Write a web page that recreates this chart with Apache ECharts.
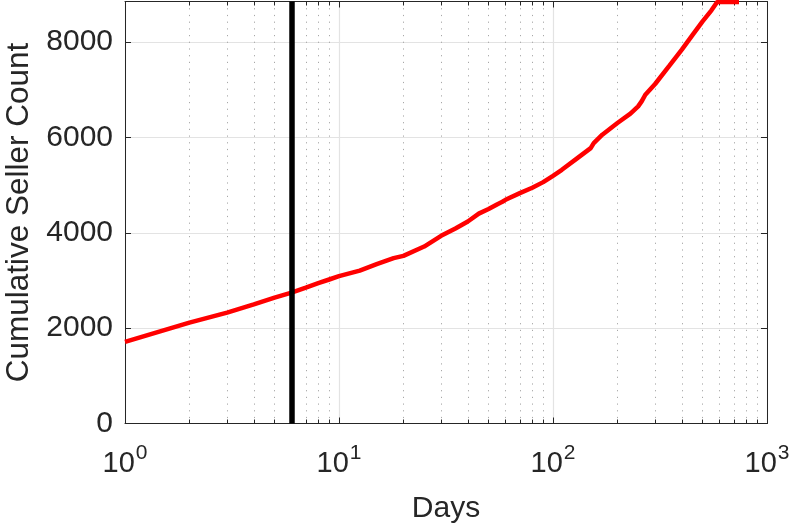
<!DOCTYPE html>
<html>
<head>
<meta charset="utf-8">
<script src="https://cdn.jsdelivr.net/npm/echarts@6/dist/echarts.min.js"></script>
<style>
html,body{margin:0;padding:0;background:#fff;}
#chart{width:789px;height:524px;}
</style>
</head>
<body>
<div id="chart"></div>
<script>
// Data
const days = [1, 2, 3, 4, 5, 6, 7, 8, 9, 10, 12.5, 15, 18, 20, 25, 30, 35, 40, 45, 50, 55, 58, 60, 70, 80, 90, 100, 110, 130, 150, 155, 170, 200, 230, 250, 260, 270, 300, 350, 400, 450, 500, 550, 585, 600, 650, 740];
const sellers = [1710, 2116, 2326, 2500, 2640, 2745, 2850, 2942, 3020, 3090, 3207, 3341, 3467, 3516, 3711, 3935, 4089, 4236, 4401, 4499, 4600, 4650, 4691, 4832, 4943, 5062, 5195, 5321, 5566, 5776, 5881, 6056, 6301, 6497, 6650, 6760, 6895, 7120, 7504, 7840, 8155, 8434, 8665, 8840, 8840, 8840, 8840];
const thresholdDay = [6];
const yTicks = [0, 2000, 4000, 6000, 8000];
const xRange = [1, 1000];
const yRange = [0, 8850];

const textColor = '#262626';
const font = 'Liberation Sans, Arial, Helvetica, sans-serif';

const chart = echarts.init(document.getElementById('chart'), null, {renderer: 'canvas'});

function xLabel(v) {
  const e = Math.round(Math.log10(v));
  return '{b|10}{s|' + e + '}';
}
const xRich = {
  b: {fontSize: 29, fontFamily: font, color: textColor, lineHeight: 36, verticalAlign: 'bottom'},
  s: {fontSize: 21, fontFamily: font, color: textColor, lineHeight: 36, verticalAlign: 'top', padding: [0, 0, 0, 1]}
};
const minorGrid = {show: true, lineStyle: {color: '#a8a8a8', width: 1, type: [1.2, 5.5]}};

const option = {
  animation: false,
  backgroundColor: '#fff',
  grid: {left: 125, right: 22, top: 1.5, bottom: 100.5, containLabel: false, outerBoundsMode: 'none'},
  xAxis: [
    {
      type: 'log', logBase: 10, min: xRange[0], max: xRange[1], position: 'bottom',
      name: 'Days', nameLocation: 'middle', nameGap: 70,
      nameTextStyle: {fontSize: 30, fontFamily: font, color: textColor},
      axisLine: {show: true, onZero: false, lineStyle: {color: textColor, width: 1}},
      axisTick: {show: true, inside: true, length: 6, lineStyle: {color: textColor}},
      minorTick: {show: true, splitNumber: 9, length: 4, lineStyle: {color: textColor}},
      axisLabel: {formatter: xLabel, rich: xRich, margin: 19},
      splitLine: {show: true, lineStyle: {color: '#e3e3e3', width: 1.2}},
      minorSplitLine: minorGrid
    },
    {
      type: 'log', logBase: 10, min: xRange[0], max: xRange[1], position: 'top',
      axisLine: {show: true, onZero: false, lineStyle: {color: textColor, width: 1}},
      axisTick: {show: true, inside: true, length: 6, lineStyle: {color: textColor}},
      minorTick: {show: true, splitNumber: 9, length: 4, lineStyle: {color: textColor}},
      axisLabel: {show: false},
      splitLine: {show: false}
    }
  ],
  yAxis: [
    {
      type: 'value', min: yRange[0], max: yRange[1], interval: 2000, position: 'left',
      name: 'Cumulative Seller Count', nameLocation: 'middle', nameGap: 87,
      nameTextStyle: {fontSize: 31.5, fontFamily: font, color: textColor},
      axisLine: {show: true, onZero: false, lineStyle: {color: textColor, width: 1}},
      axisTick: {show: true, inside: true, length: 6, lineStyle: {color: textColor}},
      axisLabel: {
        fontSize: 30, fontFamily: font, color: textColor, margin: 12,
        formatter: function (v) { return yTicks.indexOf(v) >= 0 ? String(v) : ''; }
      },
      splitLine: {show: true, lineStyle: {color: '#e3e3e3', width: 1.2}}
    },
    {
      type: 'value', min: yRange[0], max: yRange[1], interval: 2000, position: 'right',
      axisLine: {show: true, onZero: false, lineStyle: {color: textColor, width: 1}},
      axisTick: {show: true, inside: true, length: 6, lineStyle: {color: textColor}},
      axisLabel: {show: false},
      splitLine: {show: false}
    }
  ],
  series: [
    {
      type: 'line',
      xAxisIndex: 0, yAxisIndex: 0,
      data: days.map((d, i) => [d, sellers[i]]),
      showSymbol: false, symbol: 'none',
      lineStyle: {color: '#ff0000', width: 4.5},
      clip: true,
      markLine: {
        silent: true, symbol: ['none', 'none'],
        label: {show: false},
        lineStyle: {color: '#000000', width: 5.5, type: 'solid'},
        data: thresholdDay.map(d => ({xAxis: d}))
      }
    }
  ]
};
chart.setOption(option);
</script>
</body>
</html>
